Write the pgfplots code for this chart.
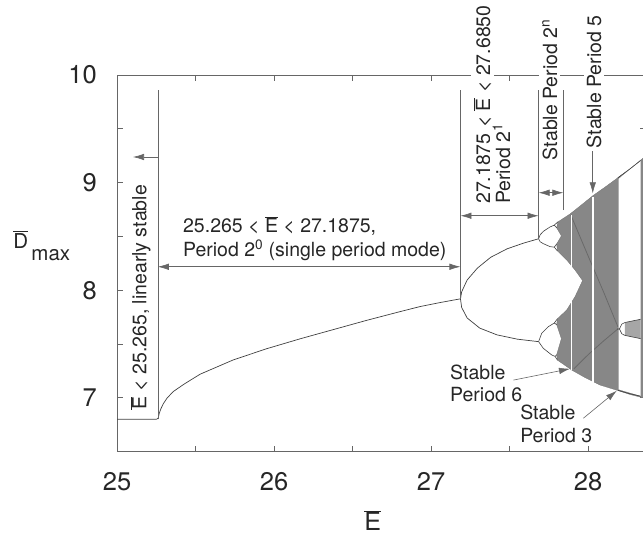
\documentclass[border=0pt]{standalone}
\usepackage{fontspec}
\setmainfont{TeX Gyre Heros}
\usepackage{pgfplots}
\pgfplotsset{compat=1.18}
\usetikzlibrary{arrows.meta}
\newcommand{\Eb}{\ensuremath{\overline{\mbox{E}}}}
\newcommand{\Db}{\ensuremath{\overline{\mbox{D}}}}
\newcommand{\af}{\fontsize{19.5}{21}\selectfont}
\tikzset{
  ann/.style={font=\af, text=black!85, inner sep=0pt},
  dim/.style={black!60, line width=0.6pt},
  tip/.style={-{Latex[length=11pt,width=6.5pt]}, black!60, line width=0.6pt},
  dtip/.style={{Latex[length=11pt,width=6.5pt]}-{Latex[length=11pt,width=6.5pt]}, black!60, line width=0.6pt},
}
\begin{document}
\begin{tikzpicture}
\begin{axis}[
  scale only axis, width=529.1pt, height=376.6pt,
  xmin=25, xmax=28.37, ymin=6.5, ymax=10,
  xtick={25,26,27,28}, ytick={7,8,9,10},
  minor x tick num=1, minor y tick num=1,
  tick align=inside,
  major tick length=6pt, minor tick length=6pt,
  axis line style={black!60, line width=0.8pt},
  tick style={black!60, line width=0.8pt},
  tick label style={font=\fontsize{25.5}{26}\selectfont, text=black!85, inner sep=0pt},
  xticklabel style={yshift=-21pt},
  yticklabel style={xshift=-20pt},
  /pgf/number format/assume math mode=true,
  clip=false,
]
\coordinate (bbSW) at (axis cs:25,6.5);
\coordinate (bbNE) at (axis cs:28.35,10);

% chaotic region (read outline)
\addplot[fill=black!47, draw=black!55, line width=0.3pt] coordinates {
(27.805,7.35) (27.800,7.40) (27.830,7.55) (27.800,7.68) (27.805,7.735)
(27.864,7.816) (27.917,7.940) (27.965,8.090) (27.917,8.188) (27.864,8.281)
(27.805,8.365) (27.800,8.43) (27.830,8.505) (27.800,8.58) (27.808,8.635)
(27.885,8.708) (27.960,8.795) (28.032,8.880) (28.110,8.960) (28.185,9.040)
(28.270,9.130) (28.365,9.245) (28.365,6.995) (28.270,7.030) (28.185,7.070)
(28.076,7.119) (27.985,7.185) (27.896,7.258) (27.850,7.305)} -- cycle;

% caustic curves
\addplot[black!80, line width=0.8pt, opacity=0.35] coordinates {(27.89,8.70) (28.00,8.32) (28.10,7.98) (28.19,7.66)};
\addplot[black!80, line width=0.8pt, opacity=0.35] coordinates {(27.91,7.27) (28.00,7.40) (28.10,7.53) (28.19,7.64)};

% periodic windows
\addplot[white, line width=1pt] coordinates {(27.896,7.26) (27.896,8.70)};
\addplot[white, line width=1.8pt] coordinates {(28.03,7.125) (28.03,8.87)};
\addplot[fill=white, draw=none] coordinates {(28.195,7.078) (28.195,9.035) (28.335,9.205) (28.335,7.018)} -- cycle;
\addplot[black!75, line width=0.6pt] coordinates {(28.19,9.045) (28.26,9.12) (28.335,9.205)};
\addplot[black!75, line width=0.6pt] coordinates {(28.19,7.07) (28.26,7.04) (28.335,7.015)};
\addplot[fill=black!35, draw=none] coordinates {(28.235,7.70) (28.335,7.73) (28.335,7.55) (28.235,7.58)} -- cycle;
\addplot[black!75, line width=0.6pt] coordinates {(28.185,7.64) (28.20,7.64) (28.215,7.685) (28.235,7.70) (28.335,7.73)};
\addplot[black!75, line width=0.6pt] coordinates {(28.20,7.64) (28.215,7.595) (28.235,7.58) (28.335,7.55)};

% period 1
\addplot[black!75, line width=0.7pt] coordinates {
(25.000,6.800) (25.250,6.800) (25.262,6.810) (25.270,6.860) (25.280,6.900)
(25.295,6.945) (25.320,7.000) (25.360,7.060) (25.430,7.130) (25.530,7.220)
(25.740,7.352) (25.950,7.455) (26.170,7.550) (26.380,7.635) (26.590,7.720)
(26.800,7.800) (26.930,7.848) (27.060,7.886) (27.1875,7.920)};
% period 2
\addplot[black!75, line width=0.7pt] coordinates {
(27.1875,7.920) (27.195,7.985) (27.230,8.095) (27.295,8.205) (27.380,8.306)
(27.485,8.385) (27.590,8.438) (27.685,8.478)};
\addplot[black!75, line width=0.7pt] coordinates {
(27.1875,7.920) (27.195,7.840) (27.230,7.742) (27.310,7.648) (27.420,7.585)
(27.550,7.545) (27.685,7.522)};
% period 4
\addplot[black!75, line width=0.6pt] coordinates {(27.685,8.478) (27.695,8.515) (27.716,8.548) (27.758,8.588) (27.785,8.605) (27.808,8.635)};
\addplot[black!75, line width=0.6pt] coordinates {(27.785,8.605) (27.800,8.58)};
\addplot[black!75, line width=0.6pt] coordinates {(27.685,8.478) (27.695,8.450) (27.716,8.432) (27.758,8.405) (27.785,8.400) (27.800,8.43)};
\addplot[black!75, line width=0.6pt] coordinates {(27.785,8.400) (27.805,8.365)};
\addplot[black!75, line width=0.6pt] coordinates {(27.685,7.522) (27.705,7.600) (27.747,7.661) (27.785,7.695) (27.805,7.735)};
\addplot[black!75, line width=0.6pt] coordinates {(27.785,7.695) (27.800,7.68)};
\addplot[black!75, line width=0.6pt] coordinates {(27.685,7.522) (27.715,7.460) (27.769,7.398) (27.790,7.385) (27.800,7.40)};
\addplot[black!75, line width=0.6pt] coordinates {(27.790,7.385) (27.805,7.35)};

% annotations
\draw[dim] (axis cs:25.26,6.80) -- (axis cs:25.26,9.86);
\draw[tip] (axis cs:25.26,9.238) -- (axis cs:25.102,9.238);
\node[ann, rotate=90, anchor=base west] at (axis cs:25.187,6.887) {\Eb{} < 25.265, linearly stable};

\draw[dtip] (axis cs:25.26,8.218) -- (axis cs:27.1875,8.218);
\node[ann, anchor=base west] at (axis cs:25.42,8.532) {25.265 < \Eb{} < 27.1875,};
\node[ann, anchor=base west] at (axis cs:25.42,8.311) {Period 2\textsuperscript{0} (single period mode)};

\draw[dim] (axis cs:27.1875,7.92) -- (axis cs:27.1875,9.86);
\draw[dim] (axis cs:27.685,8.478) -- (axis cs:27.685,9.86);
\draw[dim] (axis cs:27.843,8.745) -- (axis cs:27.843,9.86);
\draw[dtip] (axis cs:27.1875,8.692) -- (axis cs:27.685,8.692);
\draw[dtip] (axis cs:27.685,8.906) -- (axis cs:27.843,8.906);

\draw[tip] (axis cs:28.03,9.29) -- (axis cs:28.03,8.90);

\node[ann, rotate=90, anchor=base west, fill=white, inner sep=3pt] at (axis cs:27.376,8.773) {27.1875 < \Eb{} < 27.6850};
\node[ann, rotate=90, anchor=base west, fill=white, inner sep=3pt] at (axis cs:27.503,8.773) {Period 2\textsuperscript{1}};
\node[ann, rotate=90, anchor=base west, fill=white, inner sep=3pt] at (axis cs:27.803,9.179) {Stable Period 2\textsuperscript{n}};
\node[ann, rotate=90, anchor=base west, fill=white, inner sep=3pt] at (axis cs:28.083,9.29) {Stable Period 5};

\draw[tip] (axis cs:27.525,7.165) -- (axis cs:27.885,7.27);
\node[ann, anchor=base west] at (axis cs:27.121,7.172) {Stable};
\node[ann, anchor=base west] at (axis cs:27.121,6.964) {Period 6};

\draw[tip] (axis cs:27.97,6.81) -- (axis cs:28.183,7.066);
\node[ann, anchor=base west] at (axis cs:27.567,6.794) {Stable};
\node[ann, anchor=base west] at (axis cs:27.567,6.583) {Period 3};

% axis labels
\node[anchor=base, font=\fontsize{25}{25}\selectfont, text=black!85, inner sep=0pt] at (axis cs:26.629,5.765) {\Eb};
\node[anchor=base west, font=\fontsize{20.5}{21}\selectfont, text=black!85, inner sep=0pt] at (axis cs:24.338,8.392) {\Db\,\raisebox{-12pt}{max}};
\end{axis}
\pgfresetboundingbox
\useasboundingbox ([xshift=-117pt,yshift=-83pt]bbSW) rectangle ([yshift=75pt]bbNE);
\end{tikzpicture}
\end{document}
